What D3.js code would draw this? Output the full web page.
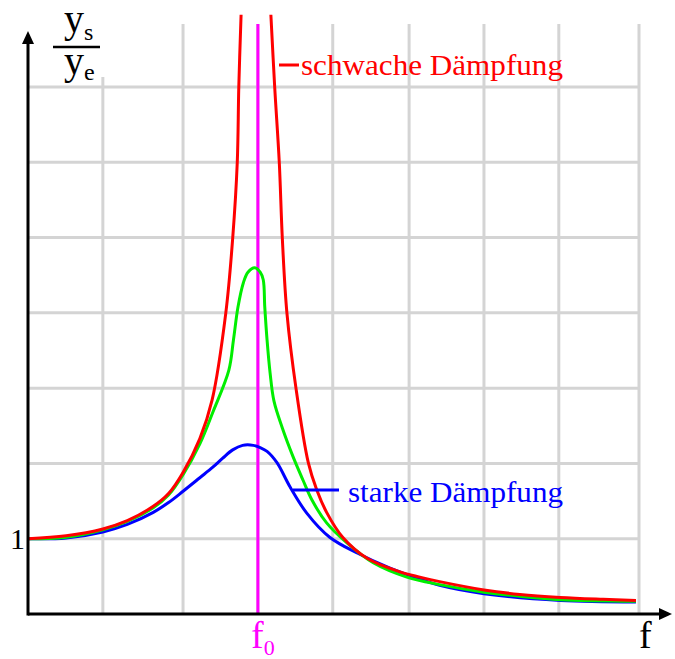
<!DOCTYPE html>
<html><head><meta charset="utf-8">
<script src="https://cdn.jsdelivr.net/npm/d3@7"></script>
<style>html,body{margin:0;padding:0;background:#fff;} svg{display:block;}</style>
</head><body>
<svg id="chart" width="675" height="659"></svg>
<script>
// ---- data ----
const f0 = 3.01;                       // resonance frequency (x units)
const gridF = [0.98, 2.03, 3.01, 3.99, 4.99, 5.97, 6.95, 8];   // vertical grid lines
const gridY = [1, 2, 3, 4, 5, 6, 7];                             // horizontal grid lines
const yTickLabels = ["1"];

// weak damping (red) – two branches going off the top, null = gap
const weakF = [0, 0.5, 0.98, 1.3, 1.64, 1.84, 2.03, 2.25, 2.41, 2.59, 2.68, 2.74, 2.76, 2.79, null,
               3.18, 3.23, 3.29, 3.33, 3.39, 3.51, 3.67, 3.78, 3.91, 4.12, 4.44, 4.87, 5.13, 5.39, 5.97, 6.44, 6.97, 7.53, 7.96];
const weakA = [1.00, 1.04, 1.13, 1.24, 1.43, 1.60, 1.88, 2.33, 2.84, 4.00, 4.99, 6.00, 7.00, 7.96, null,
               7.96, 7.00, 6.00, 4.99, 4.00, 2.99, 2.01, 1.65, 1.35, 1.02, 0.74, 0.56, 0.49, 0.43, 0.32, 0.26, 0.22, 0.195, 0.18];

// medium damping (green)
const medF = [0, 0.5, 0.98, 1.3, 1.64, 1.84, 2.03, 2.25, 2.42, 2.63, 2.69, 2.75, 2.82, 2.88, 2.97, 3.04, 3.08, 3.10, 3.13, 3.17,
              3.22, 3.33, 3.47, 3.60, 3.72, 3.91, 4.18, 4.52, 4.96, 5.39, 5.97, 6.44, 6.97, 7.96];
const medA = [1.00, 1.02, 1.12, 1.23, 1.41, 1.58, 1.85, 2.26, 2.68, 3.24, 3.64, 4.08, 4.40, 4.54, 4.60, 4.54, 4.44, 4.08, 3.64, 3.20,
              2.83, 2.47, 2.09, 1.78, 1.51, 1.21, 0.94, 0.68, 0.49, 0.39, 0.29, 0.235, 0.19, 0.17];

// strong damping (blue)
const strongF = [0, 0.5, 0.98, 1.3, 1.64, 1.84, 2.03, 2.25, 2.42, 2.55, 2.68, 2.81, 2.95, 3.04, 3.13, 3.26, 3.43, 3.65, 3.95, 4.31, 4.74,
                 5.09, 5.39, 5.97, 6.97, 7.96];
const strongA = [1.00, 1.01, 1.09, 1.19, 1.35, 1.48, 1.63, 1.81, 1.95, 2.07, 2.18, 2.24, 2.24, 2.21, 2.16, 2.01, 1.69, 1.34, 1.02, 0.81, 0.61,
                 0.48, 0.38, 0.27, 0.18, 0.16];

const labelWeak = "schwache Dämpfung";
const labelStrong = "starke Dämpfung";

// ---- drawing ----
const svg = d3.select("#chart");
const x = d3.scaleLinear().domain([0, 8]).range([28, 639]);
const y = d3.scaleLinear().domain([0, 7]).range([614, 87]);
const serif = "'Liberation Serif','Times New Roman',Times,serif";
const gridCol = "#d4d4d4";

// grid
svg.append("g").selectAll("line").data(gridY).join("line")
  .attr("x1", x(0)).attr("x2", x(8))
  .attr("y1", d => y(d)).attr("y2", d => y(d))
  .attr("stroke", gridCol).attr("stroke-width", 3);
svg.append("g").selectAll("line").data(gridF).join("line")
  .attr("x1", d => x(d)).attr("x2", d => x(d))
  .attr("y1", (d, i) => i === 0 ? 77 : 24).attr("y2", y(0))
  .attr("stroke", gridCol).attr("stroke-width", 3);

// f0 marker
svg.append("line").attr("x1", x(f0)).attr("x2", x(f0)).attr("y1", 24).attr("y2", y(0))
  .attr("stroke", "#ff00ff").attr("stroke-width", 3);

// curves
const mk = (F, A) => F.map((f, i) => (f === null ? null : [f, A[i]]));
const line = d3.line().defined(d => d !== null).x(d => x(d[0])).y(d => y(d[1])).curve(d3.curveCatmullRom.alpha(0.5));
const curves = [
  {pts: mk(strongF, strongA), col: "#0000ff"},
  {pts: mk(medF, medA), col: "#00ee00"},
  {pts: mk(weakF, weakA), col: "#ff0000"}
];
svg.append("g").selectAll("path").data(curves).join("path")
  .attr("d", d => line(d.pts)).attr("fill", "none")
  .attr("stroke", d => d.col).attr("stroke-width", 3).attr("stroke-linejoin", "round");

// axes
svg.append("line").attr("x1", x(0)).attr("x2", 662).attr("y1", y(0)).attr("y2", y(0))
  .attr("stroke", "#000").attr("stroke-width", 3);
svg.append("path").attr("d", `M672,${y(0)} L659,${y(0) - 6} L659,${y(0) + 6} Z`).attr("fill", "#000");
svg.append("line").attr("x1", x(0)).attr("x2", x(0)).attr("y1", y(0) + 1.5).attr("y2", 42)
  .attr("stroke", "#000").attr("stroke-width", 3);
svg.append("path").attr("d", `M${x(0)},31 L${x(0) - 6},44 L${x(0) + 6},44 Z`).attr("fill", "#000");

// y tick label
svg.append("g").selectAll("text").data(yTickLabels).join("text")
  .attr("x", 25).attr("y", d => y(+d) + 10).attr("text-anchor", "end")
  .attr("font-family", serif).attr("font-size", 30).text(d => d);

// axis labels
const yl = svg.append("g").attr("font-family", serif).attr("fill", "#000");
const t1 = yl.append("text").attr("x", 64).attr("y", 32).attr("font-size", 40);
t1.append("tspan").text("y");
t1.append("tspan").attr("font-size", 24).attr("dy", 8).text("s");
yl.append("line").attr("x1", 53).attr("x2", 100).attr("y1", 47).attr("y2", 47).attr("stroke", "#000").attr("stroke-width", 2.5);
const t2 = yl.append("text").attr("x", 64).attr("y", 74).attr("font-size", 40);
t2.append("tspan").text("y");
t2.append("tspan").attr("font-size", 24).attr("dy", 6).text("e");

svg.append("text").attr("x", 639).attr("y", 648).attr("font-family", serif).attr("font-size", 38).text("f");
const tf0 = svg.append("text").attr("x", 251).attr("y", 648).attr("font-family", serif).attr("font-size", 38).attr("fill", "#ff00ff");
tf0.append("tspan").text("f");
tf0.append("tspan").attr("font-size", 22).attr("dy", 7).text("0");

// legend labels
svg.append("line").attr("x1", 279).attr("x2", 299).attr("y1", 65).attr("y2", 65).attr("stroke", "#ff0000").attr("stroke-width", 3);
svg.append("text").attr("x", 301).attr("y", 75).attr("font-family", serif).attr("font-size", 30).attr("fill", "#ff0000")
  .attr("textLength", 262).attr("lengthAdjust", "spacingAndGlyphs").text(labelWeak);
svg.append("line").attr("x1", 293).attr("x2", 339).attr("y1", 490).attr("y2", 490).attr("stroke", "#0000ff").attr("stroke-width", 3);
svg.append("text").attr("x", 348).attr("y", 502).attr("font-family", serif).attr("font-size", 30).attr("fill", "#0000ff")
  .attr("textLength", 215).attr("lengthAdjust", "spacingAndGlyphs").text(labelStrong);
</script>
</body></html>
